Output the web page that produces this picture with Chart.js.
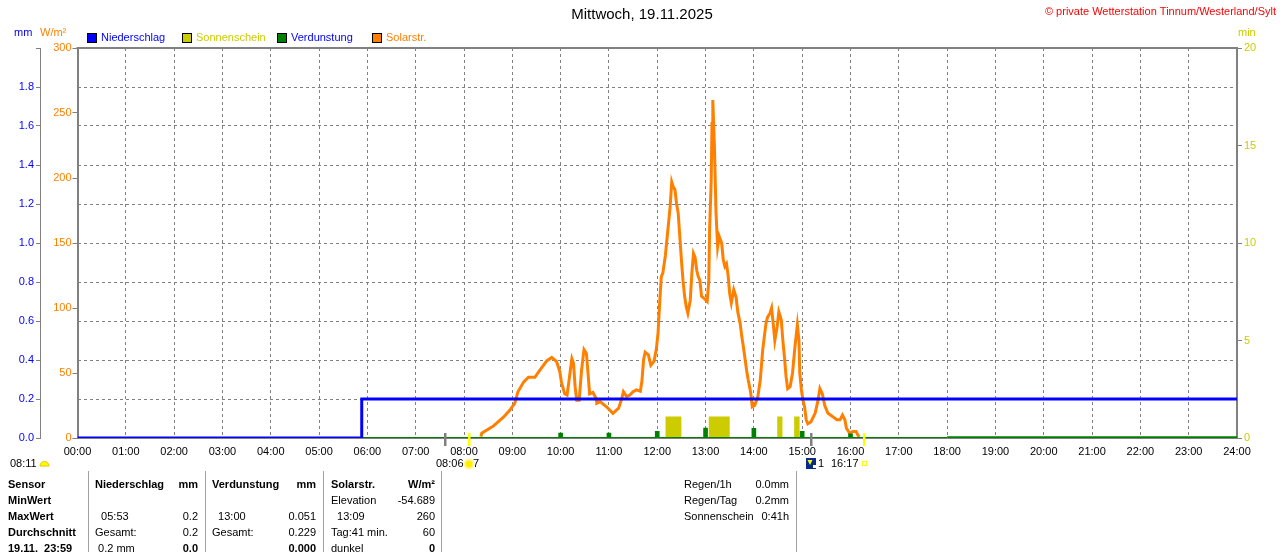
<!DOCTYPE html>
<html>
<head>
<meta charset="utf-8">
<script src="https://cdn.jsdelivr.net/npm/chart.js@4.4.0/dist/chart.umd.min.js"></script>
<style>
html, body { margin: 0; padding: 0; background: #fff; }
#wrap { width: 1280px; height: 552px; position: relative; }
</style>
</head>
<body>
<div id="wrap"><canvas id="chart" width="1280" height="552"></canvas></div>
<script>
// time values are minutes after midnight
var hourLabels = ['00:00','01:00','02:00','03:00','04:00','05:00','06:00','07:00','08:00','09:00','10:00','11:00','12:00',
    '13:00','14:00','15:00','16:00','17:00','18:00','19:00','20:00','21:00','22:00','23:00','24:00'];

var solarTimes = [501, 502, 516, 529, 537, 543, 547, 554, 560, 568, 574, 583, 589, 595, 599, 601, 605, 608, 611, 614,
    616, 618, 620, 623, 626, 629, 632, 634, 636, 640, 644, 645, 649, 657, 665, 672, 676, 678, 682, 686,
    690, 694, 699, 701, 703, 705, 709, 712, 716, 719, 721, 723, 725, 727, 730, 734, 736, 738, 740, 742,
    744, 746, 748, 750, 752, 754, 756, 758, 761, 763, 765, 767, 769, 771, 773, 775, 779, 782, 784, 785,
    787, 788, 789, 791, 793, 795, 797, 800, 802, 804, 806, 808, 810, 812, 815, 818, 820, 823, 825, 827,
    829, 831, 833, 836, 838, 841, 845, 848, 851, 855, 857, 860, 862, 864, 866, 869, 871, 874, 876, 878,
    880, 882, 885, 888, 891, 894, 896, 897, 899, 901, 903, 905, 907, 911, 916, 919, 922, 925, 928, 932,
    938, 943, 947, 950, 953, 955, 959, 963, 967, 969, 971];
var solarValues = [1, 3.6, 9, 16, 21.5, 26.7, 35.6, 43, 46.7, 46.7, 52, 59.5, 62, 58.7, 51, 43, 34, 33, 47, 61,
    57.5, 39.5, 29, 29, 52, 68, 65, 50, 34, 35, 30.5, 26.7, 28, 24, 19, 23, 30.5, 35.6, 31.8, 33,
    35.6, 37, 36, 44, 60, 66, 64, 56, 59, 69, 81, 104, 124, 127, 140, 165, 178, 197, 193, 191,
    180, 173, 155, 137, 121, 109, 101, 96, 106, 127, 142, 139, 129, 124, 121, 109, 107, 105, 121, 160,
    198, 242, 260, 224, 173, 147, 155, 150, 137, 132, 134, 125, 111, 104, 114, 108, 97, 88, 78, 70,
    61, 52, 44.6, 35, 24, 25, 32, 45, 68, 88, 93, 96, 100, 88, 75, 86, 97, 91, 75, 62,
    47, 38, 39.5, 50, 70, 87, 75, 50, 37, 29, 24, 14, 11, 12.5, 19, 27, 38, 34, 25, 19,
    16.4, 14, 14, 17.7, 14, 7.4, 3.6, 5, 5, 2.3, 1];

var rainTimes = [0, 353, 1440];
var rainValues = [0, 0.2, 0.2];

var evapHours = [600, 660, 720, 780, 840, 900, 960];
var evapValues = [0.025, 0.025, 0.034, 0.051, 0.05, 0.034, 0.022];
var evapLineTimes = [353, 1080, 1440];
var evapLineValues = [0, 0, 0];

var sunStart = [730, 784, 869, 890];
var sunEnd = [750, 810, 875.5, 897];
var sunMinutes = [1.1, 1.1, 1.1, 1.1];

var grayMarkTimes = [457, 911];
var sunriseTime = 486;
var sunsetTime = 977;

var tableRows = [
    ['Sensor', 'Niederschlag', 'mm', 'Verdunstung', 'mm', 'Solarstr.', 'W/m\u00b2'],
    ['MinWert', '', '', '', '', 'Elevation', '-54.689'],
    ['MaxWert', '  05:53', '0.2', '  13:00', '0.051', '  13:09', '260'],
    ['Durchschnitt', 'Gesamt:', '0.2', 'Gesamt:', '0.229', 'Tag:41 min.', '60'],
    ['19.11.  23:59', ' 0.2 mm', '0.0', '', '0.000', 'dunkel', '0']
];
var summaryLabels = ['Regen/1h', 'Regen/Tag', 'Sonnenschein'];
var summaryValues = ['0.0mm', '0.2mm', '0:41h'];

var FONT = '"Liberation Sans", Arial, sans-serif';

function pts(xs, ys) {
    return xs.map(function (x, i) { return { x: x, y: ys[i] }; });
}
var sunPoints = [];
sunStart.forEach(function (s, i) {
    sunPoints.push({ x: s, y: sunMinutes[i] });
    sunPoints.push({ x: sunEnd[i], y: 0 });
});

function txt(ctx, s, x, y, color, align, font) {
    ctx.font = font || ('11px ' + FONT);
    ctx.fillStyle = color || '#000';
    ctx.textAlign = align || 'left';
    ctx.textBaseline = 'middle';
    ctx.fillText(s, x, y);
}

var decoPlugin = {
    id: 'deco',
    beforeDatasetsDraw: function (chart) {
        var a = chart.chartArea, ctx = chart.ctx;
        ctx.save();
        ctx.strokeStyle = '#808080';
        ctx.lineWidth = 2;
        ctx.beginPath(); ctx.moveTo(a.left - 1, a.top); ctx.lineTo(a.right + 1, a.top); ctx.stroke();
        ctx.restore();
    },
    afterDraw: function (chart) {
        var ctx = chart.ctx, xs = chart.scales.x;
        ctx.save();
        // title and header texts
        txt(ctx, 'Mittwoch, 19.11.2025', 642, 15, '#000', 'center', '15px ' + FONT);
        txt(ctx, '\u00a9 private Wetterstation Tinnum/Westerland/Sylt', 1276, 12, '#ff0000', 'right');
        txt(ctx, 'mm', 14, 33, '#0000ff');
        txt(ctx, 'W/m\u00b2', 40, 33, '#ff8000');
        txt(ctx, 'min', 1238, 33, '#cccc00');

        // legend
        var lgNames = ['Niederschlag', 'Sonnenschein', 'Verdunstung', 'Solarstr.'];
        var lgBox = ['#0000ff', '#cccc00', '#008000', '#ff8000'];
        var lgText = ['#0000ff', '#cccc00', '#0000ff', '#ff8000'];
        var lgX = [87, 182, 277, 372];
        lgNames.forEach(function (n, i) {
            ctx.fillStyle = lgBox[i];
            ctx.fillRect(lgX[i] + 0.5, 33.5, 9, 9);
            ctx.strokeStyle = '#000'; ctx.lineWidth = 1;
            ctx.strokeRect(lgX[i] + 0.5, 33.5, 9, 9);
            txt(ctx, n, lgX[i] + 14, 38, lgText[i]);
        });

        // markers under the time axis
        function mark(t, color) {
            var px = Math.round(xs.getPixelForValue(t));
            ctx.fillStyle = color;
            ctx.fillRect(px - 1, 433, 2.5, 13);
        }
        grayMarkTimes.forEach(function (t) { mark(t, '#808080'); });
        mark(sunriseTime, '#ffff00');
        mark(sunsetTime, '#ffff00');

        txt(ctx, '08:11', 10, 464);
        ctx.fillStyle = '#ffff00';
        ctx.beginPath(); ctx.arc(44.5, 466, 4.5, Math.PI, 0); ctx.closePath(); ctx.fill();
        ctx.strokeStyle = '#e8c000'; ctx.lineWidth = 1; ctx.stroke();

        txt(ctx, '08:06', 436, 464);
        ctx.fillStyle = '#fff7a0';
        ctx.beginPath(); ctx.arc(469, 464, 5.5, 0, Math.PI * 2); ctx.fill();
        ctx.fillStyle = '#ffee00';
        ctx.beginPath(); ctx.arc(469, 464, 3.5, 0, Math.PI * 2); ctx.fill();
        txt(ctx, '7', 473, 464);

        ctx.fillStyle = '#0a2a8a';
        ctx.fillRect(806, 458, 10, 11);
        ctx.fillStyle = '#ffff00';
        ctx.beginPath(); ctx.moveTo(807.5, 460); ctx.lineTo(812.5, 460); ctx.lineTo(810, 465); ctx.closePath(); ctx.fill();
        ctx.fillStyle = '#ffffff';
        ctx.fillRect(813, 465, 3, 3);
        txt(ctx, '1', 818, 464);
        txt(ctx, '16:17', 831, 464);
        ctx.strokeStyle = '#ffff00'; ctx.lineWidth = 1;
        ctx.strokeRect(862.5, 461.5, 4, 4);

        // table
        ctx.strokeStyle = '#a0a0a0'; ctx.lineWidth = 1;
        [88, 205, 323, 441, 796].forEach(function (x) {
            ctx.beginPath(); ctx.moveTo(x + 0.5, 471); ctx.lineTo(x + 0.5, 552); ctx.stroke();
        });
        var colX = [8, 95, 198, 212, 316, 331, 435];
        var colAlign = ['left', 'left', 'right', 'left', 'right', 'left', 'right'];
        var rowY = [485, 501, 517, 533, 549];
        var bold = 'bold 11px ' + FONT;
        tableRows.forEach(function (row, r) {
            row.forEach(function (cell, c) {
                if (!cell) { return; }
                var isBold = c === 0 || r === 0 || (r === 4 && (c === 2 || c === 4 || c === 6));
                txt(ctx, cell, colX[c], rowY[r], '#000', colAlign[c], isBold ? bold : null);
            });
        });
        summaryLabels.forEach(function (s, i) {
            txt(ctx, s, 684, rowY[i]);
            txt(ctx, summaryValues[i], 789, rowY[i], '#000', 'right');
        });
        ctx.restore();
    }
};

Chart.defaults.font.family = FONT;
Chart.defaults.font.size = 11;

new Chart(document.getElementById('chart'), {
    type: 'line',
    data: {
        datasets: [
            { label: 'Niederschlag', data: pts(rainTimes, rainValues), yAxisID: 'y_mm', borderColor: '#0000ff',
              borderWidth: 3, stepped: true, pointRadius: 0, order: 0 },
            { label: 'Verdunstung', data: pts(evapLineTimes, evapLineValues), yAxisID: 'y_mm', borderColor: '#008000',
              borderWidth: 2, pointRadius: 0, order: 1,
              segment: { borderWidth: function (c) { return c.p0.parsed.x >= 1080 ? 3.5 : 2; } } },
            { type: 'bar', label: 'Verdunstung/h', data: pts(evapHours, evapValues), yAxisID: 'y_mm',
              backgroundColor: '#008000', barThickness: 4, order: 2 },
            { label: 'Solarstr.', data: pts(solarTimes, solarValues), yAxisID: 'y_w', borderColor: '#ff8000',
              borderWidth: 3, pointRadius: 0, tension: 0, order: 3 },
            { label: 'Sonnenschein', data: sunPoints, yAxisID: 'y_min', borderColor: 'rgba(0,0,0,0)',
              backgroundColor: '#cccc00', borderWidth: 1, fill: 'origin', stepped: true, pointRadius: 0, order: 4 }
        ]
    },
    options: {
        responsive: false,
        animation: false,
        devicePixelRatio: 1,
        layout: { padding: { top: 48, left: 0, right: 0, bottom: 0 } },
        plugins: { legend: { display: false }, tooltip: { enabled: false } },
        scales: {
            x: {
                type: 'linear', min: 0, max: 1440, offset: false,
                afterFit: function (s) { s.height = 114; },
                ticks: { stepSize: 60, autoSkip: false, maxRotation: 0, padding: 7, color: '#000',
                         callback: function (v) { return hourLabels[Math.round(v / 60)]; } },
                grid: { color: '#808080', lineWidth: 1, drawTicks: false, offset: false },
                border: { color: '#808080', width: 1, dash: [3, 3] }
            },
            y_mm: {
                position: 'left', weight: 1, min: 0, max: 2,
                afterFit: function (s) { s.width = 40; },
                ticks: { stepSize: 0.2, color: '#0000ff', padding: 2,
                         callback: function (v) { return v >= 1.99 ? '' : v.toFixed(1); } },
                grid: { color: '#808080', tickColor: '#808080', tickLength: 4, tickBorderDash: [] },
                border: { color: '#808080', width: 1, dash: [3, 3] }
            },
            y_w: {
                position: 'left', weight: 0, min: 0, max: 300,
                afterFit: function (s) { s.width = 37.5; },
                ticks: { stepSize: 50, color: '#ff8000', padding: 1 },
                grid: { drawOnChartArea: false, tickColor: '#808080', tickLength: 5 },
                border: { color: '#808080', width: 2 }
            },
            y_min: {
                position: 'right', min: 0, max: 20,
                afterFit: function (s) { s.width = 43; },
                ticks: { stepSize: 5, color: '#cccc00', padding: 2 },
                grid: { drawOnChartArea: false, tickColor: '#808080', tickLength: 5 },
                border: { color: '#808080', width: 2 }
            }
        }
    },
    plugins: [decoPlugin]
});
</script>
</body>
</html>
